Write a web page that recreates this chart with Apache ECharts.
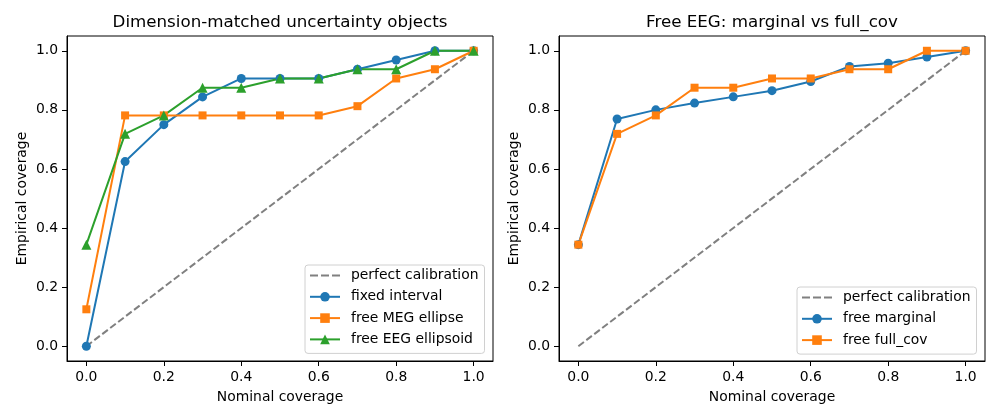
<!DOCTYPE html>
<html>
<head>
<meta charset="utf-8">
<script src="https://cdn.jsdelivr.net/npm/echarts@6/dist/echarts.min.js"></script>
<style>
  html, body { margin: 0; padding: 0; background: #fff; }
  #chart { width: 1000px; height: 420px; }
</style>
</head>
<body>
<div id="chart"></div>
<script>
  // nominal coverage levels (x)
  const nominal = [0.0, 0.1, 0.2, 0.3, 0.4, 0.5, 0.6, 0.7, 0.8, 0.9, 1.0]
  const perfect = [0.0, 1.0]
  const perfectX = [0.0, 1.0]

  // left panel
  const fixedInterval = [0.0, 0.625, 0.75, 0.84375, 0.90625, 0.90625, 0.90625, 0.9375, 0.96875, 1.0, 1.0]
  const freeMegEllipse = [0.125, 0.78125, 0.78125, 0.78125, 0.78125, 0.78125, 0.78125, 0.8125, 0.90625, 0.9375, 1.0]
  const freeEegEllipsoid = [0.34375, 0.71875, 0.78125, 0.875, 0.875, 0.90625, 0.90625, 0.9375, 0.9375, 1.0, 1.0]

  // right panel
  const freeMarginal = [0.34375, 0.769, 0.80, 0.823, 0.844, 0.865, 0.896, 0.947, 0.958, 0.979, 1.0]
  const freeFullCov = [0.34375, 0.71875, 0.78125, 0.875, 0.875, 0.90625, 0.90625, 0.9375, 0.9375, 1.0, 1.0]

  const tickValues = [0, 0.2, 0.4, 0.6, 0.8, 1.0]
  const titles = ['Dimension-matched uncertainty objects', 'Free EEG: marginal vs full_cov']

  const FONT = 'DejaVu Sans'
  const pairs = (xs, ys) => xs.map((x, i) => [x, ys[i]])
  // dashed legend handle (three gray dashes), the line series icon would add a circle
  const DASH_ICON = 'path://M0,0L0.01,0L0.01,0.01ZM0,12L0.01,12L0.01,11.99Z' +
    'M0,5L8,5L8,7L0,7ZM11,5L19,5L19,7L11,7ZM22,5L30,5L30,7L22,7Z'

  function axis(idx, name, isY) {
    return {
      type: 'value',
      gridIndex: idx,
      min: -0.05,
      max: 1.05,
      name: name,
      nameLocation: 'middle',
      nameGap: isY ? 38 : 29,
      nameTextStyle: { fontFamily: FONT, fontSize: 13.9, color: '#000' },
      axisLine: { show: true, onZero: false, lineStyle: { color: '#000', width: 1 } },
      splitLine: { show: false },
      axisTick: {
        show: true,
        customValues: tickValues,
        length: 5,
        lineStyle: { color: '#000', width: 1 }
      },
      axisLabel: {
        customValues: tickValues,
        margin: 9,
        fontFamily: FONT,
        fontSize: 13.9,
        color: '#000',
        formatter: v => v.toFixed(1)
      }
    }
  }

  function lineSeries(name, idx, xs, ys, color, symbol, size) {
    return {
      name: name,
      type: 'line',
      xAxisIndex: idx,
      yAxisIndex: idx,
      data: pairs(xs, ys),
      symbol: symbol,
      symbolSize: size,
      showSymbol: true,
      color: color,
      lineStyle: { color: color, width: 2 },
      itemStyle: { color: color },
      animation: false
    }
  }

  function perfectSeries(idx) {
    return {
      name: 'perfect calibration',
      type: 'line',
      xAxisIndex: idx,
      yAxisIndex: idx,
      data: pairs(perfectX, perfect),
      symbol: 'none',
      color: '#808080',
      itemStyle: { color: '#808080' },
      lineStyle: { color: '#808080', width: 2, type: [7, 3] },
      animation: false
    }
  }

  const legendBase = {
    orient: 'vertical',
    itemWidth: 30,
    itemHeight: 12,
    itemGap: 7.3,
    padding: [3.5, 6, 7, 4],
    backgroundColor: 'rgba(255,255,255,0.8)',
    borderColor: '#d0d0d0',
    borderWidth: 1,
    borderRadius: 3,
    textStyle: { fontFamily: FONT, fontSize: 13.9, color: '#000', padding: [0, 0, 0, 6] },
    selectedMode: false
  }

  const chart = echarts.init(document.getElementById('chart'), null, { renderer: 'canvas' })
  const option = {
    backgroundColor: '#fff',
    animation: false,
    graphic: [
      { type: 'text', x: 280, y: 23, style: { text: titles[0], font: '16.7px "DejaVu Sans"', fill: '#000', align: 'center', verticalAlign: 'middle' } },
      { type: 'text', x: 772, y: 23, style: { text: titles[1], font: '16.7px "DejaVu Sans"', fill: '#000', align: 'center', verticalAlign: 'middle' } }
    ],
    grid: [
      { left: 67, top: 36, width: 426, height: 325, show: true, borderColor: '#000', borderWidth: 1, backgroundColor: 'transparent' },
      { left: 559, top: 36, width: 426, height: 325, show: true, borderColor: '#000', borderWidth: 1, backgroundColor: 'transparent' }
    ],
    xAxis: [axis(0, 'Nominal coverage', false), axis(1, 'Nominal coverage', false)],
    yAxis: [axis(0, 'Empirical coverage', true), axis(1, 'Empirical coverage', true)],
    legend: [
      Object.assign({}, legendBase, {
        left: 305, top: 265,
        data: [{ name: 'perfect calibration', icon: DASH_ICON }, 'fixed interval', 'free MEG ellipse', 'free EEG ellipsoid']
      }),
      Object.assign({}, legendBase, {
        left: 797, top: 287,
        data: [{ name: 'perfect calibration', icon: DASH_ICON }, 'free marginal', 'free full_cov']
      })
    ],
    series: [
      perfectSeries(0),
      lineSeries('fixed interval', 0, nominal, fixedInterval, '#1f77b4', 'circle', 9),
      lineSeries('free MEG ellipse', 0, nominal, freeMegEllipse, '#ff7f0e', 'rect', 8),
      lineSeries('free EEG ellipsoid', 0, nominal, freeEegEllipsoid, '#2ca02c', 'triangle', 10),
      perfectSeries(1),
      lineSeries('free marginal', 1, nominal, freeMarginal, '#1f77b4', 'circle', 9),
      lineSeries('free full_cov', 1, nominal, freeFullCov, '#ff7f0e', 'rect', 8)
    ]
  }
  chart.setOption(option)
</script>
</body>
</html>
